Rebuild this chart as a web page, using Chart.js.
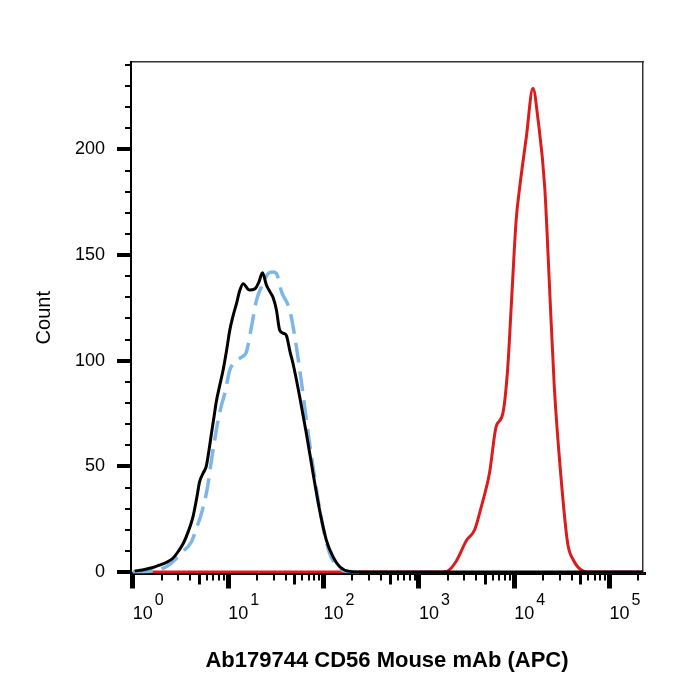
<!DOCTYPE html>
<html lang="en">
<head>
<meta charset="UTF-8" />
<title>CD56 APC histogram</title>
<script src="https://cdn.jsdelivr.net/npm/chart.js"></script>
<style>
  body { margin: 0; background: #fff; }
</style>
</head>
<body>
<canvas id="histChart" width="700" height="700"></canvas>
<script>
// APC intensity (x) and event count (y)
const blackX = [1.047, 1.259, 1.585, 1.905, 2.239, 2.630, 3.020, 3.388, 3.802, 4.266, 4.677, 5.012, 5.495, 5.888, 6.310, 6.683, 7.079, 7.534, 8.128, 8.851, 9.550, 10.40, 11.22, 12.22, 13.18, 14.35, 16.60, 19.05, 20.89, 22.91, 25.12, 27.54, 29.51, 32.06, 34.67, 38.02, 40.74, 44.67, 47.86, 56.23, 66.07, 77.62, 91.20, 107.2, 125.9, 147.9, 186.2, 251.2, 224000];
const blackY = [0.5, 1, 2, 3.3, 4.5, 6.5, 10, 13.6, 19, 26, 35, 42.7, 47, 50, 58, 65.7, 73, 81, 88, 95.6, 104, 114.5, 121, 127, 133, 136.5, 133.5, 134, 137, 141.6, 136, 132.5, 130, 124, 114.5, 113, 112, 104, 98.7, 83, 65.6, 46.7, 29, 15, 7.2, 2.5, 0.3, 0, 0];

const blueX = [1.0, 1.585, 2.239, 2.754, 3.311, 4.121, 4.677, 5.248, 5.888, 6.310, 6.683, 7.244, 7.852, 8.511, 9.204, 10.40, 11.22, 12.22, 14.13, 15.49, 17.54, 19.82, 23.23, 26.30, 29.51, 32.06, 36.31, 44.16, 50.12, 58.88, 66.07, 77.62, 95.50, 116.1, 147.9, 186.2, 251.2];
const blueY = [0, 0.5, 2.5, 5.7, 9.5, 14.3, 21, 27.8, 37, 45, 53, 63, 72, 79, 84.5, 95.6, 98.5, 100.3, 102, 104, 116, 128.7, 136.6, 141.3, 142, 141.3, 132.6, 124, 111, 89.3, 72, 49.8, 24.6, 8.8, 1.7, 0.2, 0];

const redX = [1.0, 1514, 1950, 2455, 3162, 3846, 4519, 5495, 6457, 7586, 8511, 9333, 10470, 11400, 13400, 15700, 17780, 20890, 23440, 26300, 30900, 36310, 41690, 52480, 61660, 224000];
const redY = [0, 0, 0.3, 5, 15, 20, 31, 46.7, 68.8, 75, 95.6, 127, 166.5, 182, 206, 229, 214, 182, 135, 87.7, 45, 13.6, 5.7, 0.5, 0, 0];

// axes
const xMin = 0.957;
const xMax = 224000;
const xTicks = [1, 10, 100, 1000, 10000, 100000];
const xTickPowers = ['0', '1', '2', '3', '4', '5'];
const xMinorSteps = [2, 3, 4, 6, 7, 8, 9];
const xMidSteps = [5];
const yMin = -0.7;
const yMax = 241.4;
const yTicks = [0, 50, 100, 150, 200];
const yMinorTicks = [0, 10, 20, 30, 40, 50, 60, 70, 80, 90, 100, 110, 120, 130, 140, 150, 160, 170, 180, 190, 200, 210, 220, 230, 240];

const toPoints = (xs, ys) => xs.map((x, i) => ({ x: x, y: ys[i] }));

function stepTicks(steps) {
    const out = [];
    xTicks.forEach(d => steps.forEach(k => {
        if (d * k <= xMax) out.push({ value: d * k });
    }));
    return out;
}

Chart.defaults.font.family = '"Liberation Sans", Arial, sans-serif';
Chart.defaults.color = '#000';

// draws the exponent next to each "10" label
const powerLabels = {
    id: 'powerLabels',
    afterDraw(chart) {
        const scale = chart.scales.x;
        const ctx = chart.ctx;
        ctx.save();
        ctx.font = '16px "Liberation Sans", Arial, sans-serif';
        ctx.fillStyle = '#000';
        ctx.textAlign = 'left';
        ctx.textBaseline = 'middle';
        scale.ticks.forEach((tick, i) => {
            ctx.fillText(xTickPowers[i], scale.getPixelForValue(tick.value) + 22, scale.top + 27);
        });
        ctx.restore();
    }
};

const tickOnly = (len, width) => ({
    display: true, drawOnChartArea: false, drawTicks: true,
    tickLength: len, tickWidth: width, lineWidth: width, tickColor: '#000', color: '#000'
});

const ctx = document.getElementById('histChart').getContext('2d');

new Chart(ctx, {
    type: 'line',
    data: {
        datasets: [
            {
                label: 'Isotype',
                data: toPoints(blackX, blackY),
                borderColor: '#000000',
                borderWidth: 3,
                xAxisID: 'x', yAxisID: 'y'
            },
            {
                label: 'Unstained',
                data: toPoints(blueX, blueY),
                borderColor: '#7db6e8',
                borderWidth: 3.5,
                borderDash: [20, 9],
                xAxisID: 'x', yAxisID: 'y'
            },
            {
                label: 'CD56',
                data: toPoints(redX, redY),
                borderColor: '#dc1c1c',
                borderWidth: 3,
                xAxisID: 'x', yAxisID: 'y'
            }
        ]
    },
    options: {
        responsive: false,
        animation: false,
        parsing: false,
        layout: { padding: { top: 62, right: 57, left: 0, bottom: 0 } },
        elements: {
            point: { radius: 0 },
            line: { fill: false, cubicInterpolationMode: 'monotone' }
        },
        plugins: {
            legend: { display: false },
            tooltip: { enabled: false }
        },
        scales: {
            x: {
                type: 'logarithmic',
                position: 'bottom',
                min: xMin,
                max: xMax,
                afterBuildTicks: s => { s.ticks = xTicks.map(v => ({ value: v })); },
                afterFit: s => { s.height = 126.5; },
                grid: tickOnly(15, 5),
                border: { display: true, color: '#000', width: 3 },
                ticks: {
                    autoSkip: false, maxRotation: 0, align: 'start', padding: 15,
                    font: { size: 18 },
                    callback: () => '10'
                },
                title: {
                    display: true,
                    text: 'Ab179744 CD56 Mouse mAb (APC)',
                    font: { size: 22, weight: 'bold' },
                    padding: { top: 0, bottom: 26 }
                }
            },
            xMid: {
                type: 'logarithmic',
                position: { y: yMin },
                min: xMin,
                max: xMax,
                afterBuildTicks: s => { s.ticks = stepTicks(xMidSteps); },
                grid: tickOnly(10.5, 3),
                border: { display: false },
                ticks: { display: false }
            },
            xMinor: {
                type: 'logarithmic',
                position: { y: yMin },
                min: xMin,
                max: xMax,
                afterBuildTicks: s => { s.ticks = stepTicks(xMinorSteps); },
                grid: tickOnly(6.5, 2),
                border: { display: false },
                ticks: { display: false }
            },
            xTop: {
                type: 'linear',
                position: 'top',
                display: true,
                afterFit: s => { s.height = 0; },
                grid: { display: true, drawOnChartArea: false, drawTicks: false },
                border: { display: true, color: '#333', width: 1.5 },
                ticks: { display: false }
            },
            y: {
                type: 'linear',
                position: 'left',
                min: yMin,
                max: yMax,
                afterBuildTicks: s => { s.ticks = yTicks.map(v => ({ value: v })); },
                afterFit: s => { s.width = 131; },
                grid: tickOnly(14, 4),
                border: { display: true, color: '#000', width: 2 },
                ticks: { padding: 12, font: { size: 18 } },
                title: {
                    display: true,
                    text: 'Count',
                    font: { size: 20 },
                    padding: { top: 32, bottom: 0 }
                }
            },
            yMinor: {
                type: 'linear',
                position: { x: xMin },
                min: yMin,
                max: yMax,
                afterBuildTicks: s => { s.ticks = yMinorTicks.map(v => ({ value: v })); },
                grid: tickOnly(6, 2),
                border: { display: false },
                ticks: { display: false }
            },
            yRight: {
                type: 'linear',
                position: 'right',
                display: true,
                afterFit: s => { s.width = 0; },
                grid: { display: true, drawOnChartArea: false, drawTicks: false },
                border: { display: true, color: '#333', width: 1.5 },
                ticks: { display: false }
            }
        }
    },
    plugins: [powerLabels]
});
</script>
</body>
</html>
